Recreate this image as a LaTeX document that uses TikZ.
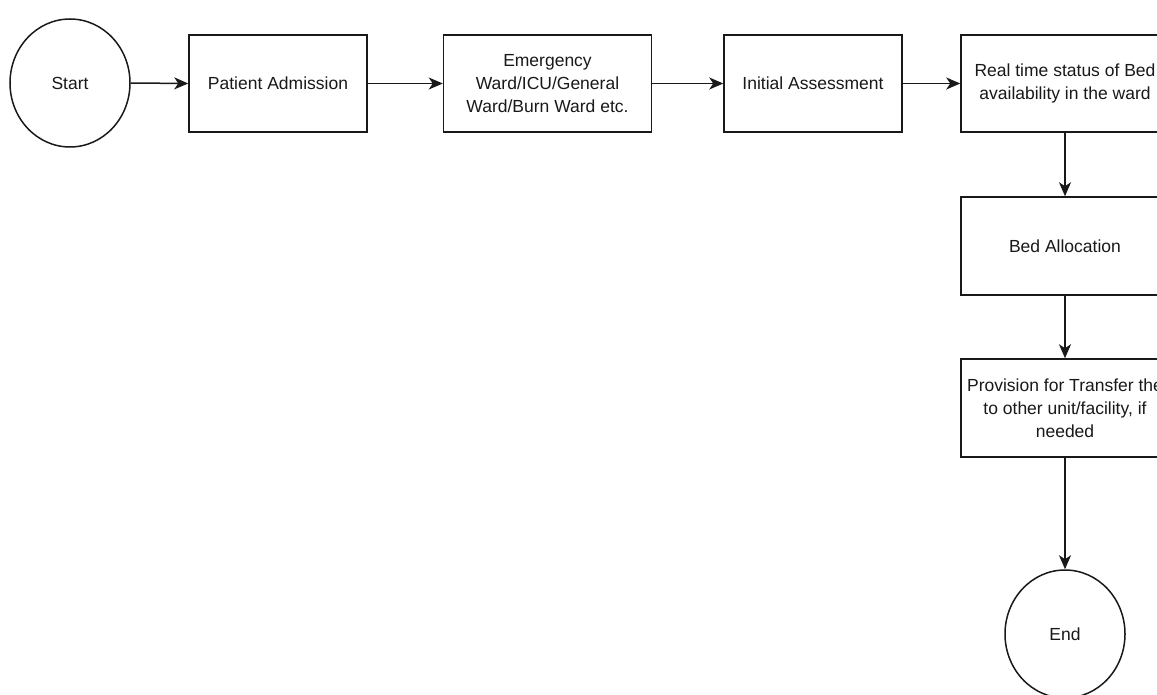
\documentclass[tikz,border=0pt]{standalone}
\usepackage{fontspec}
\setmainfont{Liberation Sans}
\usetikzlibrary{arrows.meta,shapes.geometric}
\begin{document}
\begin{tikzpicture}[x=1pt,y=-1pt,
  every node/.style={font=\fontsize{17.5}{23}\selectfont, text=black!90},
  box/.style={draw=black!90, line width=1.5pt, rectangle, align=center, inner sep=0pt, minimum height=97pt},
  term/.style={draw=black!90, line width=1.5pt, ellipse, minimum width=120pt, minimum height=128pt, inner sep=0pt},
  conn/.style={draw=black!90, line width=1.5pt, -{Stealth[length=14pt,width=12pt,inset=4pt]}}]
\useasboundingbox (0,0) rectangle (1157,695);
\clip (0,0) rectangle (1157,695);
\fill[white] (0,0) rectangle (1157,695);
\node[term] (start) at (70,83) {Start};
\node[box, minimum width=178pt] (adm) at (278,83.5) {Patient Admission};
\node[box, minimum width=208pt] (ward) at (547.5,83.5) {Emergency\\Ward/ICU/General\\Ward/Burn Ward etc.};
\node[box, minimum width=178pt] (init) at (813,83.5) {Initial Assessment};
\node[box, minimum width=208pt] (stat) at (1065,83.5) {Real time status of Bed\\availability in the ward};
\node[box, minimum width=208pt, minimum height=98pt] (bed) at (1065,246) {Bed Allocation};
\node[box, minimum width=208pt, minimum height=98pt] (prov) at (1065,408) {Provision for Transfer the\\to other unit/facility, if\\needed};
\node[term] (end) at (1065,634) {End};
\draw[conn] (start.east) -- (adm.west);
\draw[conn] (adm) -- (ward);
\draw[conn] (ward) -- (init);
\draw[conn] (init) -- (stat);
\draw[conn] (stat) -- (bed);
\draw[conn] (bed) -- (prov);
\draw[conn] (prov) -- (end);
\end{tikzpicture}
\end{document}
